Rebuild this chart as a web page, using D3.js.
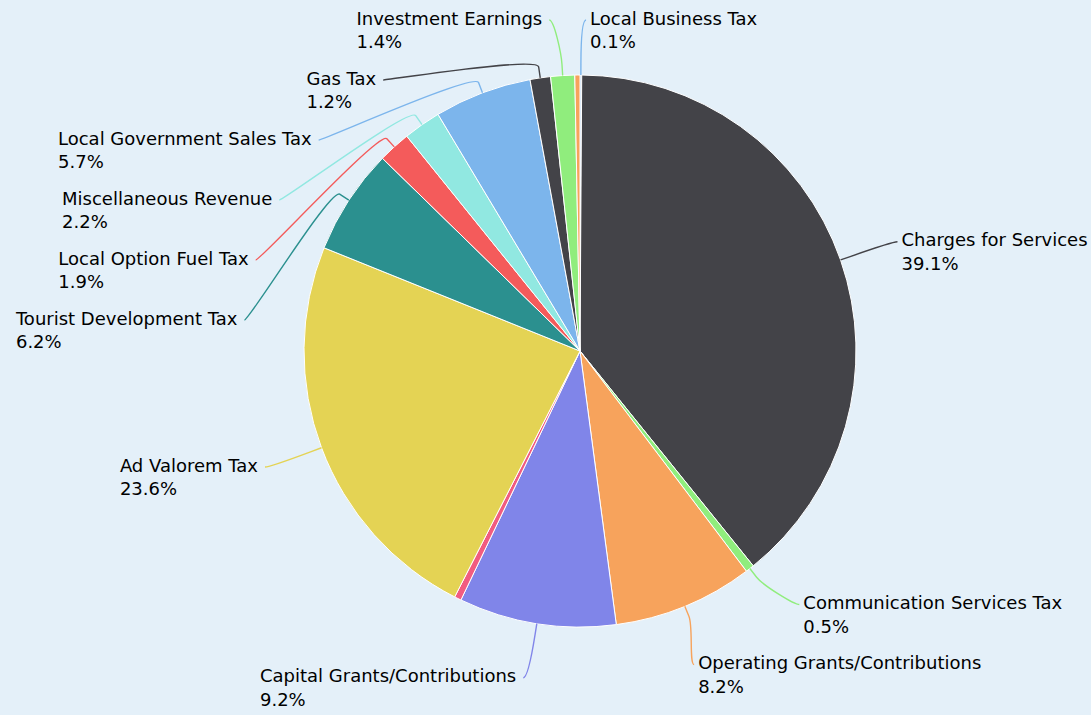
<!DOCTYPE html>
<html>
<head>
<meta charset="utf-8">
<script src="https://cdn.jsdelivr.net/npm/d3@7"></script>
<style>
  html, body { margin: 0; padding: 0; background: #e4f0f9; }
  svg { display: block; }
  .lbl text { font-family: "DejaVu Sans", "Noto Sans", sans-serif; font-size: 18px; fill: #000; }
</style>
</head>
<body>
<svg id="chart" width="1091" height="715"></svg>
<script>
// Revenue sources, in drawing order (clockwise from 12 o'clock)
const categories = [
  "Local Business Tax",
  "Charges for Services",
  "Communication Services Tax",
  "Operating Grants/Contributions",
  "Capital Grants/Contributions",
  "Other Grants",
  "Ad Valorem Tax",
  "Tourist Development Tax",
  "Local Option Fuel Tax",
  "Miscellaneous Revenue",
  "Local Government Sales Tax",
  "Gas Tax",
  "Investment Earnings",
  "Other Revenue"
];
// Share of total revenue, percent
const shares = [0.1, 39.1, 0.5, 8.2, 9.2, 0.4, 23.6, 6.2, 1.9, 2.2, 5.7, 1.2, 1.4, 0.3];
// Slices too thin to carry a label of their own
const unlabelled = ["Other Grants", "Other Revenue"];
const palette = ["#7cb5ec", "#434348", "#90ed7d", "#f7a35c", "#8085e9",
                 "#f15c80", "#e4d354", "#2b908f", "#f45b5b", "#91e8e1"];

const W = 1091, H = 715;
const cx = 580, cy = 351, radius = 276, labelDistance = 55;
const R = radius + labelDistance;      // circle on which labels sit
const breakOffset = labelDistance / 5; // where the connector bends
const boxSize = 60;                    // vertical room taken by one label
const lineGap = 23.5;

const svg = d3.select("#chart");
const color = d3.scaleOrdinal().domain(categories).range(categories.map((c, i) => palette[i % palette.length]));
const data = categories.map((name, i) => ({ name, value: shares[i] }));

const pie = d3.pie().value(d => d.value).sort(null);
const arcs = pie(data);
const arc = d3.arc().innerRadius(0).outerRadius(radius);

const g = svg.append("g").attr("transform", `translate(${cx},${cy})`);

g.selectAll("path.slice")
  .data(arcs)
  .join("path")
  .attr("class", "slice")
  .attr("d", arc)
  .attr("fill", d => color(d.data.name))
  .attr("stroke", "#ffffff")
  .attr("stroke-width", 1)
  .attr("stroke-linejoin", "round");

// Spread labels vertically so they do not collide, keeping them near their slice
function distribute(items, lo, hi, size) {
  items.sort((a, b) => a.ny - b.ny);
  const groups = items.map(d => ({ members: [d] }));
  const place = grp => {
    const n = grp.members.length;
    let start = d3.mean(grp.members, m => m.ny) - (n - 1) * size / 2;
    start = Math.max(lo, Math.min(hi - (n - 1) * size, start));
    grp.start = start;
  };
  groups.forEach(place);
  let merged = true;
  while (merged) {
    merged = false;
    for (let i = 1; i < groups.length; i++) {
      const prev = groups[i - 1];
      if (groups[i].start < prev.start + prev.members.length * size) {
        prev.members = prev.members.concat(groups[i].members);
        groups.splice(i, 1);
        place(prev);
        merged = true;
        break;
      }
    }
  }
  groups.forEach(grp => grp.members.forEach((m, k) => { m.y = grp.start + k * size; }));
}

const labels = arcs
  .filter(d => !unlabelled.includes(d.data.name))
  .map(d => {
    const a = (d.startAngle + d.endAngle) / 2;
    return { d, a, left: a > Math.PI, nx: R * Math.sin(a), ny: -R * Math.cos(a) };
  });

distribute(labels.filter(l => l.left), -R, R, boxSize);
distribute(labels.filter(l => !l.left), -R, R, boxSize);

labels.forEach(l => {
  const s = l.left ? -1 : 1;
  const moved = Math.abs(l.y - l.ny) > 0.5;
  const baseX = moved ? s * Math.sqrt(Math.max(0, (R + 1) * (R + 1) - l.y * l.y)) : l.nx;
  l.x = baseX + s * 5;
});

const lg = g.append("g").attr("class", "lbl");

// Connectors: soft curve from the label to a bend point, then straight into the slice
lg.selectAll("path.conn")
  .data(labels)
  .join("path")
  .attr("class", "conn")
  .attr("fill", "none")
  .attr("stroke", l => color(l.d.data.name))
  .attr("stroke-width", 1.4)
  .attr("d", l => {
    const sin = Math.sin(l.a), cos = -Math.cos(l.a);
    const tx = radius * sin, ty = radius * cos;
    const bx = (radius + breakOffset) * sin, by = (radius + breakOffset) * cos;
    const p = d3.path();
    p.moveTo(l.x, l.y);
    p.bezierCurveTo(l.x + (l.left ? 5 : -5), l.y, 2 * bx - tx, 2 * by - ty, bx, by);
    p.lineTo(tx, ty);
    return p.toString();
  });

const texts = lg.selectAll("text")
  .data(labels)
  .join("text")
  .attr("y", l => l.y + 4.5);

texts.append("tspan").attr("class", "nm").attr("x", 0).text(l => l.d.data.name);
texts.append("tspan").attr("class", "pc").attr("x", 0).attr("dy", lineGap)
  .text(l => l.d.data.value.toFixed(1) + "%");

// Two-line label block: lines share a left edge; left-side blocks end near the connector
texts.each(function (l) {
  const t = d3.select(this);
  const w = d3.max(t.selectAll("tspan").nodes(), n => n.getComputedTextLength());
  const x0 = l.left ? l.x - 7 - w : l.x + 4;
  t.selectAll("tspan").attr("x", x0);
});
</script>
</body>
</html>
